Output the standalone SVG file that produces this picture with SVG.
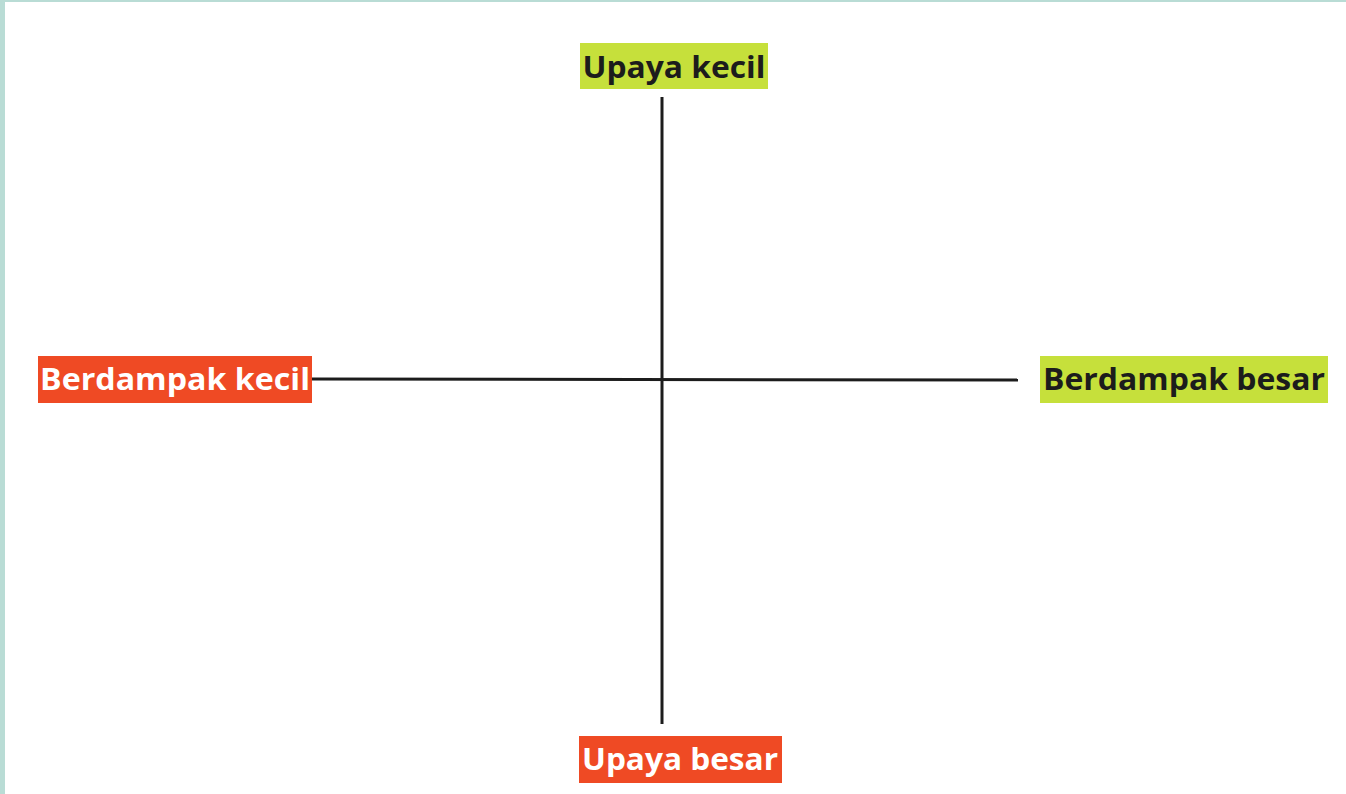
<svg xmlns="http://www.w3.org/2000/svg" width="1346" height="794" viewBox="0 0 1346 794">
<style>
.lbl{font-family:"Open Sans","Noto Sans","Liberation Sans",sans-serif;font-weight:700;font-size:31px;text-anchor:middle}
.dark{fill:#1c1c1c}
.light{fill:#ffffff}
.green{fill:#c6e03b}
.red{fill:#ef4a24}
.axis{stroke:#1c1c1c;stroke-width:3;fill:none}
</style>
<rect x="0" y="0" width="1346" height="794" fill="#ffffff"/>
<rect x="0" y="0" width="1346" height="2" fill="#b9dcd5"/>
<rect x="0" y="0" width="5" height="794" fill="#b9dcd5"/>
<g id="connectors">
<line class="axis" x1="662" y1="97" x2="662" y2="724"/>
<line class="axis" x1="312" y1="379" x2="1018" y2="380"/>
</g>
<g id="upaya-kecil">
<rect class="green" x="580" y="43" width="188" height="46"/>
<text class="lbl dark" x="674" y="78" textLength="183" lengthAdjust="spacingAndGlyphs">Upaya kecil</text>
</g>
<g id="berdampak-kecil">
<rect class="red" x="38" y="356" width="274" height="47"/>
<text class="lbl light" x="175" y="390" textLength="270" lengthAdjust="spacingAndGlyphs">Berdampak kecil</text>
</g>
<g id="berdampak-besar">
<rect class="green" x="1040" y="356" width="288" height="47"/>
<text class="lbl dark" x="1184" y="390" textLength="282" lengthAdjust="spacingAndGlyphs">Berdampak besar</text>
</g>
<g id="upaya-besar">
<rect class="red" x="579" y="736" width="203" height="47"/>
<text class="lbl light" x="680" y="770" textLength="196" lengthAdjust="spacingAndGlyphs">Upaya besar</text>
</g>
</svg>
